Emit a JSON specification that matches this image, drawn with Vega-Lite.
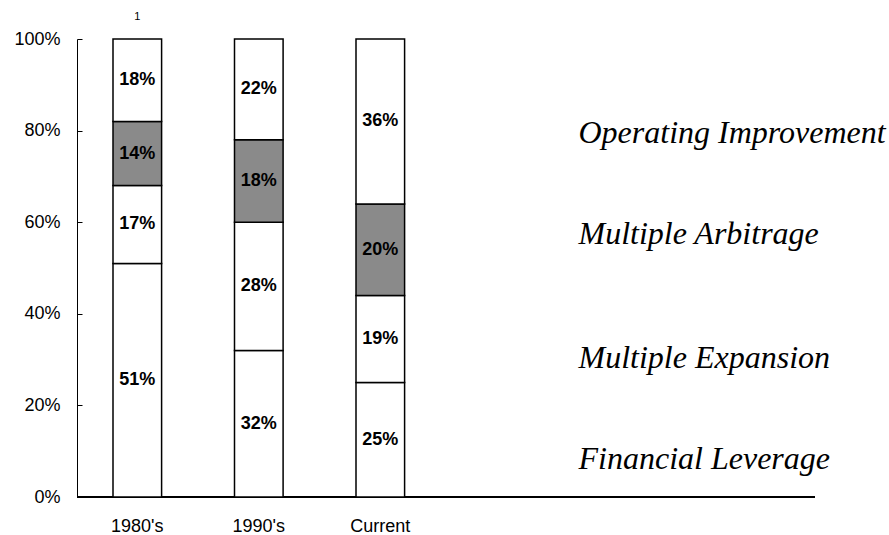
{
  "$schema": "https://vega.github.io/schema/vega-lite/v6.json",
  "width": 738,
  "height": 458,
  "autosize": "none",
  "padding": {"left": 77, "top": 39, "right": 74, "bottom": 38},
  "background": "white",
  "config": {
    "view": {"stroke": null},
    "font": "Liberation Sans",
    "axis": {"grid": false, "domainColor": "black", "labelColor": "black", "tickColor": "black", "title": null}
  },
  "data": {
    "values": [
      {"period": "1980's", "strategy": "Financial Leverage", "share": 51},
      {"period": "1980's", "strategy": "Multiple Expansion", "share": 17},
      {"period": "1980's", "strategy": "Multiple Arbitrage", "share": 14},
      {"period": "1980's", "strategy": "Operating Improvement", "share": 18},
      {"period": "1990's", "strategy": "Financial Leverage", "share": 32},
      {"period": "1990's", "strategy": "Multiple Expansion", "share": 28},
      {"period": "1990's", "strategy": "Multiple Arbitrage", "share": 18},
      {"period": "1990's", "strategy": "Operating Improvement", "share": 22},
      {"period": "Current", "strategy": "Financial Leverage", "share": 25},
      {"period": "Current", "strategy": "Multiple Expansion", "share": 19},
      {"period": "Current", "strategy": "Multiple Arbitrage", "share": 20},
      {"period": "Current", "strategy": "Operating Improvement", "share": 36}
    ]
  },
  "layer": [
    {
      "mark": {"type": "rule", "color": "black", "strokeWidth": 1.5},
      "encoding": {"y": {"datum": 0, "type": "quantitative", "axis": null}}
    },
    {
      "transform": [
        {"stack": "share", "groupby": ["period"], "as": ["y0", "y1"]}
      ],
      "mark": {"type": "bar", "stroke": "black", "strokeWidth": 1.5},
      "encoding": {
        "x": {
          "field": "period",
          "type": "nominal",
          "sort": null,
          "scale": {"range": [36, 327.6], "paddingInner": 0.6, "paddingOuter": 0},
          "axis": {
            "labelAngle": 0,
            "ticks": false,
            "domain": false,
            "labelPadding": 20,
            "labelFontSize": 18
          }
        },
        "y": {
          "field": "y1",
          "type": "quantitative",
          "scale": {"domain": [0, 100], "nice": false},
          "axis": {
            "orient": "left",
            "values": [0, 20, 40, 60, 80, 100],
            "labelExpr": "datum.value + '%'",
            "labelFontSize": 18,
            "tickSize": -5,
            "labelPadding": 22,
            "domainWidth": 1
          }
        },
        "y2": {"field": "y0"},
        "color": {
          "field": "strategy",
          "type": "nominal",
          "scale": {
            "domain": ["Financial Leverage", "Multiple Expansion", "Multiple Arbitrage", "Operating Improvement"],
            "range": ["white", "white", "#8a8a8a", "white"]
          },
          "legend": null
        }
      }
    },
    {
      "transform": [
        {"stack": "share", "groupby": ["period"], "as": ["y0", "y1"]},
        {"calculate": "(datum.y0 + datum.y1) / 2", "as": "mid"},
        {"calculate": "datum.share + '%'", "as": "label"}
      ],
      "mark": {"type": "text", "fontWeight": "bold", "fontSize": 18, "color": "black", "baseline": "middle"},
      "encoding": {
        "x": {"field": "period", "type": "nominal", "sort": null},
        "y": {
          "field": "mid",
          "type": "quantitative",
          "axis": {
            "orient": "right",
            "values": [79.5, 57.5, 30.5, 8.5],
            "labelExpr": "datum.value == 79.5 ? 'Operating Improvement' : datum.value == 57.5 ? 'Multiple Arbitrage' : datum.value == 30.5 ? 'Multiple Expansion' : 'Financial Leverage'",
            "offset": -237,
            "ticks": false,
            "domain": false,
            "labelPadding": 0,
            "labelAlign": "left",
            "labelBaseline": "middle",
            "labelFont": "Liberation Serif",
            "labelFontStyle": "italic",
            "labelFontSize": 32,
            "labelLimit": 0,
            "labelOverlap": false,
            "labelBound": false,
            "labelFlush": false
          }
        },
        "text": {"field": "label", "type": "nominal"},
        "detail": {"field": "strategy"}
      }
    },
    {
      "data": {"values": [{"period": "1980's", "note": "1"}]},
      "mark": {"type": "text", "fontSize": 11, "color": "black", "baseline": "middle"},
      "encoding": {
        "x": {"field": "period", "type": "nominal"},
        "y": {"datum": 104.8, "type": "quantitative", "axis": null},
        "text": {"field": "note"}
      }
    }
  ],
  "resolve": {"axis": {"y": "independent"}}
}
